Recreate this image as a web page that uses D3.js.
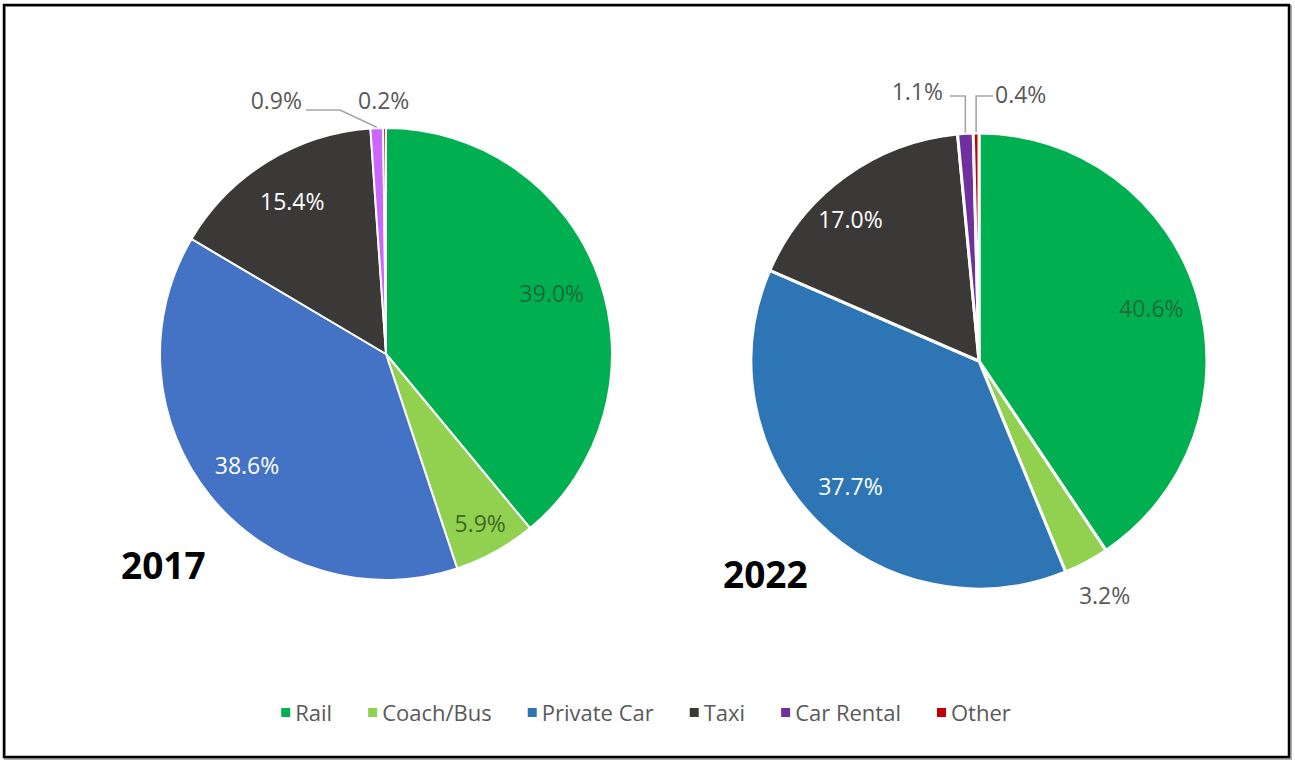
<!DOCTYPE html>
<html>
<head>
<meta charset="utf-8">
<script src="https://cdn.jsdelivr.net/npm/d3@7"></script>
<style>
  body { margin: 0; background: #fff; }
  svg { display: block; }
</style>
</head>
<body>
<div id="chart"></div>
<script>
// Data
const categories = ["Rail", "Coach/Bus", "Private Car", "Taxi", "Car Rental", "Other"];
const years = ["2017", "2022"];
const values2017 = [39.0, 5.9, 38.6, 15.4, 0.9, 0.2];
const values2022 = [40.6, 3.2, 37.7, 17.0, 1.1, 0.4];

const colors2017 = ["#00b050", "#92d050", "#4472c4", "#3b3838", "#cc66ff", "#c00000"];
const colors2022 = ["#00b050", "#92d050", "#2e75b6", "#3b3838", "#7030a0", "#c00000"];
const legendColors = ["#00b050", "#92d050", "#2e75b6", "#3b3838", "#7030a0", "#c00000"];

// label colour inside slices
const insideText = ["#1f6b3a", "#3d6b22", "#ffffff", "#ffffff"];

const width = 1295;
const height = 761;
const font = "'Open Sans', 'Noto Sans', sans-serif";

const svg = d3.select("#chart")
    .append("svg")
    .attr("width", width)
    .attr("height", height);

// outer frame
svg.append("rect")
    .attr("x", 5).attr("y", 6)
    .attr("width", 1286).attr("height", 753)
    .attr("fill", "none")
    .attr("stroke", "#b0b0b0")
    .attr("stroke-width", 2);
svg.append("rect")
    .attr("x", 4).attr("y", 5)
    .attr("width", 1285).attr("height", 752)
    .attr("fill", "none")
    .attr("stroke", "#000")
    .attr("stroke-width", 2.5);

// layout of each pie; label spots for small slices are offsets from the centre
const pies = [
    {
        year: years[0], values: values2017, colors: colors2017,
        cx: 386, cy: 354, r: 226, stroke: 2,
        yearPos: [121, 579],
        inside: { 0: 0.78, 1: 0.86, 2: 0.79, 3: 0.79 },
        outside: {
            4: { label: [-84, -245], anchor: "end", path: [[-46, -244], [-80, -244]] },
            5: { label: [-28, -245], anchor: "start", path: null }
        }
    },
    {
        year: years[1], values: values2022, colors: colors2022,
        cx: 979, cy: 361, r: 228, stroke: 3,
        yearPos: [723, 588],
        inside: { 0: 0.79, 2: 0.79, 3: 0.81 },
        outside: {
            1: { radius: 1.17, anchor: "middle" },
            4: { label: [-36, -261], anchor: "end", path: "upLeft", end: -29, y: -265 },
            5: { label: [16, -258], anchor: "start", path: "upRight", end: 14, y: -265 }
        }
    }
];

const pie = d3.pie().sort(null).value(d => d);

pies.forEach(p => {
    const g = svg.append("g").attr("transform", `translate(${p.cx},${p.cy})`);
    const arcs = pie(p.values);
    const arc = d3.arc().innerRadius(0).outerRadius(p.r);

    g.selectAll("path.slice")
        .data(arcs)
        .enter()
        .append("path")
        .attr("class", "slice")
        .attr("d", arc)
        .attr("fill", (d, i) => p.colors[i])
        .attr("stroke", "#fff")
        .attr("stroke-width", p.stroke)
        .attr("stroke-linejoin", "round");

    const mid = d => (d.startAngle + d.endAngle) / 2;
    const polar = (a, rr) => [Math.sin(a) * rr, -Math.cos(a) * rr];

    arcs.forEach((d, i) => {
        const txt = d3.format(".1f")(d.value) + "%";
        if (p.inside[i] !== undefined) {
            let [x, y] = polar(mid(d), p.r * p.inside[i]);
            if (i === 3 && p.year === "2022") { x -= 20; y += 8; }
            g.append("text")
                .attr("x", x).attr("y", y)
                .attr("dy", "0.35em")
                .attr("text-anchor", "middle")
                .attr("font-family", font)
                .attr("font-size", 23)
                .attr("fill", insideText[i])
                .text(txt);
        } else if (p.outside[i]) {
            const o = p.outside[i];
            let lx, ly;
            if (o.radius) {
                [lx, ly] = polar(mid(d), p.r * o.radius);
                ly += 8;
            } else {
                [lx, ly] = o.label;
            }
            const a = polar(mid(d), p.r + 1);
            let pts = null;
            if (Array.isArray(o.path)) pts = [a, ...o.path];
            else if (o.path === "upLeft" || o.path === "upRight") pts = [a, [a[0], o.y], [o.end, o.y]];
            if (pts) {
                g.append("path")
                    .attr("d", d3.line()(pts))
                    .attr("fill", "none")
                    .attr("stroke", "#a6a6a6")
                    .attr("stroke-width", 1.6);
            }
            g.append("text")
                .attr("x", lx).attr("y", ly)
                .attr("text-anchor", o.anchor)
                .attr("font-family", font)
                .attr("font-size", 23)
                .attr("fill", "#595959")
                .text(txt);
        }
    });

    svg.append("text")
        .attr("x", p.yearPos[0]).attr("y", p.yearPos[1])
        .attr("font-family", font)
        .attr("font-weight", "bold")
        .attr("font-size", 37)
        .attr("fill", "#000")
        .text(p.year);
});

// Legend
const legend = svg.append("g").attr("transform", "translate(0,713)");
const items = legend.selectAll("g")
    .data(categories)
    .enter()
    .append("g");

items.append("rect")
    .attr("y", -5).attr("width", 9).attr("height", 9)
    .attr("fill", (d, i) => legendColors[i]);

items.append("text")
    .attr("x", 14)
    .attr("dy", "0.35em")
    .attr("font-family", font)
    .attr("font-size", 22)
    .attr("fill", "#595959")
    .text(d => d);

// lay out legend items side by side, centred
const gap = 36;
const widths = [];
items.each(function () { widths.push(this.getBBox().width); });
const total = d3.sum(widths) + gap * (widths.length - 1);
let xPos = (280 + 1012) / 2 - total / 2;
items.each(function (d, i) {
    d3.select(this).attr("transform", `translate(${xPos},0)`);
    xPos += widths[i] + gap;
});
</script>
</body>
</html>
